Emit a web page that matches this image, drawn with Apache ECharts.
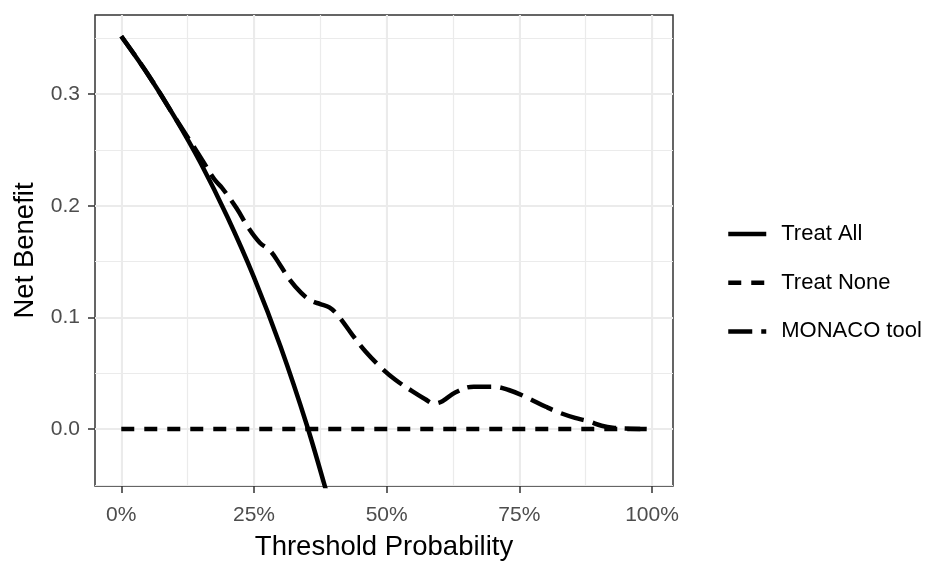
<!DOCTYPE html>
<html>
<head>
<meta charset="utf-8">
<script src="https://cdn.jsdelivr.net/npm/echarts@6/dist/echarts.min.js"></script>
<style>
  html, body { margin: 0; padding: 0; background: #fff; }
  #chart { width: 937px; height: 566px; }
</style>
</head>
<body>
<div id="chart"></div>
<script>
var seriesNames = ['Treat All', 'Treat None', 'MONACO tool'];

var allX = [0, 0.05, 0.10, 0.15, 0.20, 0.25, 0.30, 0.35, 0.39];
var allY = [0.352, 0.318, 0.280, 0.238, 0.190, 0.136, 0.074, 0.003, -0.062];

var noneX = [0, 0.99];
var noneY = [0, 0];

var monacoX = [0, 0.05, 0.10, 0.15, 0.175, 0.19, 0.217, 0.24, 0.261, 0.28, 0.298, 0.317, 0.339, 0.358,
  0.375, 0.392, 0.408, 0.436, 0.461, 0.492, 0.517, 0.548, 0.572, 0.589, 0.605, 0.63, 0.664, 0.70,
  0.73, 0.761, 0.80, 0.824, 0.855, 0.88, 0.905, 0.93, 0.95, 0.99];
var monacoY = [0.352, 0.318, 0.280, 0.243, 0.224, 0.216, 0.198, 0.180, 0.167, 0.160, 0.148, 0.134, 0.122, 0.115,
  0.112, 0.109, 0.102, 0.084, 0.069, 0.054, 0.044, 0.034, 0.027, 0.023, 0.025, 0.033, 0.038, 0.038,
  0.035, 0.029, 0.020, 0.015, 0.010, 0.007, 0.003, 0.001, 0.0005, 0];

var xTicks = [0, 0.25, 0.5, 0.75, 1];
var xGrid = [0, 0.125, 0.25, 0.375, 0.5, 0.625, 0.75, 0.875, 1];
var yTicks = [0, 0.1, 0.2, 0.3];
var yGrid = [-0.05, 0, 0.05, 0.1, 0.15, 0.2, 0.25, 0.3, 0.35];

function pairs(xs, ys) {
  return xs.map(function (x, i) { return [x, ys[i]]; });
}

var FONT = '"Liberation Sans", Arial, sans-serif';
var xMin = -0.0495, xMax = 1.0395;
var yMin = -0.051, yMax = 0.371;

var myChart = echarts.init(document.getElementById('chart'));

// thin grid lines (minor + major positions)
function gridAxis(pos, values, width) {
  return {
    position: pos,
    axisLine: { show: false, onZero: false },
    axisTick: { show: false, customValues: values },
    axisLabel: { show: false },
    splitLine: { show: true, lineStyle: { color: '#EBEBEB', width: width } }
  };
}

var option = {
  backgroundColor: '#fff',
  animation: false,
  textStyle: { fontFamily: FONT },
  grid: {
    left: 95, right: 264, top: 15, bottom: 77,
    show: true, borderColor: '#333', borderWidth: 1.5, backgroundColor: 'transparent'
  },
  legend: {
    orient: 'vertical',
    left: 721,
    top: 218,
    itemWidth: 38,
    itemHeight: 20,
    itemGap: 26.7,
    itemStyle: { color: 'rgba(0,0,0,0)', borderWidth: 0 },
    lineStyle: { width: 4.5 },
    textStyle: { fontSize: 22, color: '#000', fontFamily: FONT, padding: [0, 0, 0, 10] },
    data: seriesNames
  },
  xAxis: [
    Object.assign({ type: 'value', min: xMin, max: xMax }, gridAxis('bottom', xGrid, 1.2)),
    {
      type: 'value', min: xMin, max: xMax, position: 'bottom',
      name: 'Threshold Probability',
      nameLocation: 'middle',
      nameGap: 47,
      nameTextStyle: { fontSize: 27.5, color: '#000', fontFamily: FONT },
      axisLine: { show: false, onZero: false },
      axisTick: { show: true, customValues: xTicks, length: 7, lineStyle: { color: '#333', width: 1.5 } },
      axisLabel: {
        customValues: xTicks, margin: 19, fontSize: 21, color: '#4D4D4D', fontFamily: FONT,
        formatter: function (v) { return Math.round(v * 100) + '%'; }
      },
      splitLine: { show: true, lineStyle: { color: '#EBEBEB', width: 2 } }
    }
  ],
  yAxis: [
    Object.assign({ type: 'value', min: yMin, max: yMax }, gridAxis('left', yGrid, 1.2)),
    {
      type: 'value', min: yMin, max: yMax, position: 'left',
      name: 'Net Benefit',
      nameLocation: 'middle',
      nameGap: 55,
      nameTextStyle: { fontSize: 27.5, color: '#000', fontFamily: FONT },
      axisLine: { show: false, onZero: false },
      axisTick: { show: true, customValues: yTicks, length: 7, lineStyle: { color: '#333', width: 1.5 } },
      axisLabel: {
        customValues: yTicks, margin: 15, fontSize: 21, color: '#4D4D4D', fontFamily: FONT,
        formatter: function (v) { return v.toFixed(1); }
      },
      splitLine: { show: true, lineStyle: { color: '#EBEBEB', width: 2 } }
    }
  ],
  series: [
    {
      name: 'Treat All', type: 'line', xAxisIndex: 1, yAxisIndex: 1,
      data: pairs(allX, allY), smooth: 0.3, symbol: 'none', clip: true,
      lineStyle: { color: '#000', width: 4.5 }, itemStyle: { color: '#000' }
    },
    {
      name: 'Treat None', type: 'line', xAxisIndex: 1, yAxisIndex: 1,
      data: pairs(noneX, noneY), symbol: 'none',
      lineStyle: { color: '#000', width: 4.5, type: [13, 10] }, itemStyle: { color: '#000' }
    },
    {
      name: 'MONACO tool', type: 'line', xAxisIndex: 1, yAxisIndex: 1,
      data: pairs(monacoX, monacoY), smooth: 0.4, symbol: 'none',
      lineStyle: { color: '#000', width: 4.5, type: [24, 9] }, itemStyle: { color: '#000' }
    }
  ]
};
myChart.setOption(option);
</script>
</body>
</html>
